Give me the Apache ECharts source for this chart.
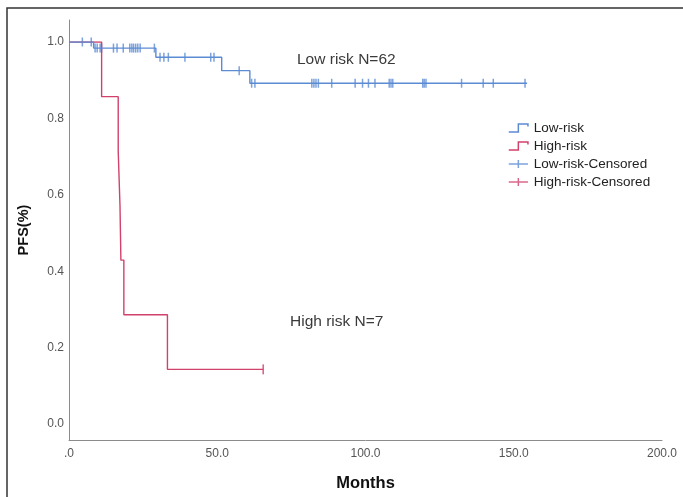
<!DOCTYPE html>
<html>
<head>
<meta charset="utf-8">
<script src="https://cdn.jsdelivr.net/npm/echarts@6/dist/echarts.min.js"></script>
<style>
html, body { margin: 0; padding: 0; background: #fff; }
#chart { width: 683px; height: 497px; }
</style>
</head>
<body>
<div id="chart"></div>
<script>
// Kaplan-Meier steps: time of event (months) and survival after it
var lowTimes = [0, 8.3, 29.3, 51.5, 61.0, 154.5];
var lowSurv = [1.0, 0.984, 0.96, 0.925, 0.892, 0.892];
var highTimes = [0, 11.0, 16.6, 17.2, 17.5, 18.5, 33.2, 65.5];
var highSurv = [1.0, 0.857, 0.714, 0.571, 0.429, 0.286, 0.143, 0.143];

// censored observations (months)
var lowCensored = [4.5, 7.5, 8.8, 9.5, 10.5, 11.0, 15.0, 16.2, 18.3, 20.5, 21.2, 21.8, 22.5, 23.2, 24.0, 28.8,
    30.7, 32.0, 33.5, 39.1, 47.8, 48.9, 57.4, 61.6, 62.7, 81.9, 82.6, 83.3, 84.1, 88.6, 96.5, 99.0, 101.0,
    103.2, 108.0, 108.6, 109.2, 119.3, 119.8, 120.4, 132.4, 139.7, 143.1, 153.8];
var highCensored = [65.5];

var xTicks = [0, 50, 100, 150, 200];
var yTicks = [0, 0.2, 0.4, 0.6, 0.8, 1.0];

var lowColor = "#5b8bd3", highColor = "#d1416b";
var font = "'Liberation Sans', Arial, sans-serif";

function survAt(times, surv, t) {
    var s = surv[0];
    for (var i = 0; i < times.length; i++) if (times[i] <= t) s = surv[i];
    return s;
}

function pairs(times, surv) {
    return times.map(function (t, i) { return [t, surv[i]]; });
}

function censorPoints(list, times, surv) {
    return list.map(function (t) { return [t, survAt(times, surv, t)]; });
}

var stepIcon = "path://M0,10 L12,10 L12,0 L24,0 L24,3";
var crossIcon = "path://M0,5 L24,5 M12,0 L12,10";

var chart = echarts.init(document.getElementById("chart"));
chart.setOption({
    animation: false,
    backgroundColor: "#fff",
    textStyle: {fontFamily: font},
    graphic: [
        {type: "rect", shape: {x: 7, y: 8, width: 720, height: 540}, style: {fill: "none", stroke: "#333", lineWidth: 1.5}, silent: true},
        {type: "text", x: 297, y: 52, style: {text: "Low risk N=62", font: "15.5px " + font, fill: "#3a3a3a"}},
        {type: "text", x: 290, y: 314, style: {text: "High risk N=7", font: "15.5px " + font, fill: "#3a3a3a"}}
    ],
    grid: [
        {left: 69, right: 21, top: 20, bottom: 56},
        {left: 69, right: 21, top: 42, bottom: 73}
    ],
    xAxis: [
        {
            gridIndex: 0, type: "value", min: xTicks[0], max: xTicks[xTicks.length - 1], interval: xTicks[1] - xTicks[0],
            axisLine: {onZero: false, lineStyle: {color: "#8c8c8c", width: 1}},
            axisTick: {show: false}, splitLine: {show: false},
            axisLabel: {
                color: "#555", fontSize: 12, margin: 8,
                formatter: function (v) { return v === 0 ? ".0" : v.toFixed(1); }
            },
            name: "Months", nameLocation: "middle", nameGap: 35,
            nameTextStyle: {color: "#111", fontSize: 16.5, fontWeight: "bold"}
        },
        {gridIndex: 1, type: "value", min: 0, max: 200, show: false}
    ],
    yAxis: [
        {
            gridIndex: 0, type: "value", min: -0.045, max: 1.058,
            axisLine: {show: true, onZero: false, lineStyle: {color: "#8c8c8c", width: 1}},
            axisTick: {show: false}, axisLabel: {show: false}, splitLine: {show: false},
            name: "PFS(%)", nameLocation: "middle", nameGap: 38,
            nameTextStyle: {color: "#111", fontSize: 14.5, fontWeight: "bold"}
        },
        {
            gridIndex: 1, type: "value", min: yTicks[0], max: yTicks[yTicks.length - 1], interval: 0.2,
            axisLine: {show: false}, axisTick: {show: false}, splitLine: {show: false},
            axisLabel: {
                color: "#555", fontSize: 12, margin: 5,
                formatter: function (v) { return v.toFixed(1); }
            }
        }
    ],
    legend: {
        orient: "vertical", left: 508, top: 121, padding: 0,
        itemWidth: 25, itemHeight: 8, itemGap: 4,
        textStyle: {color: "#222", fontSize: 13.5, fontFamily: font, padding: [0, 0, 0, -2]},
        data: [
            {name: "Low-risk", icon: stepIcon, itemStyle: {color: "rgba(0,0,0,0)", borderColor: lowColor, borderWidth: 1.5}},
            {name: "High-risk", icon: stepIcon, itemStyle: {color: "rgba(0,0,0,0)", borderColor: highColor, borderWidth: 1.5}},
            {name: "Low-risk-Censored", icon: crossIcon, itemStyle: {color: "rgba(0,0,0,0)", borderColor: lowColor, borderWidth: 1.5}},
            {name: "High-risk-Censored", icon: crossIcon, itemStyle: {color: "rgba(0,0,0,0)", borderColor: highColor, borderWidth: 1.5}}
        ]
    },
    series: [
        {
            name: "High-risk", type: "line", xAxisIndex: 1, yAxisIndex: 1, step: "end",
            data: pairs(highTimes, highSurv), showSymbol: false, symbol: "none",
            lineStyle: {color: highColor, width: 1.4}, itemStyle: {color: highColor}
        },
        {
            name: "Low-risk", type: "line", xAxisIndex: 1, yAxisIndex: 1, step: "end",
            data: pairs(lowTimes, lowSurv), showSymbol: false, symbol: "none",
            lineStyle: {color: lowColor, width: 1.4}, itemStyle: {color: lowColor}
        },
        {
            name: "High-risk-Censored", type: "scatter", xAxisIndex: 1, yAxisIndex: 1,
            data: censorPoints(highCensored, highTimes, highSurv),
            symbol: "rect", symbolSize: [1.6, 10], itemStyle: {color: highColor}
        },
        {
            name: "Low-risk-Censored", type: "scatter", xAxisIndex: 1, yAxisIndex: 1,
            data: censorPoints(lowCensored, lowTimes, lowSurv),
            symbol: "rect", symbolSize: [1.5, 9], itemStyle: {color: lowColor}
        }
    ]
});
</script>
</body>
</html>
